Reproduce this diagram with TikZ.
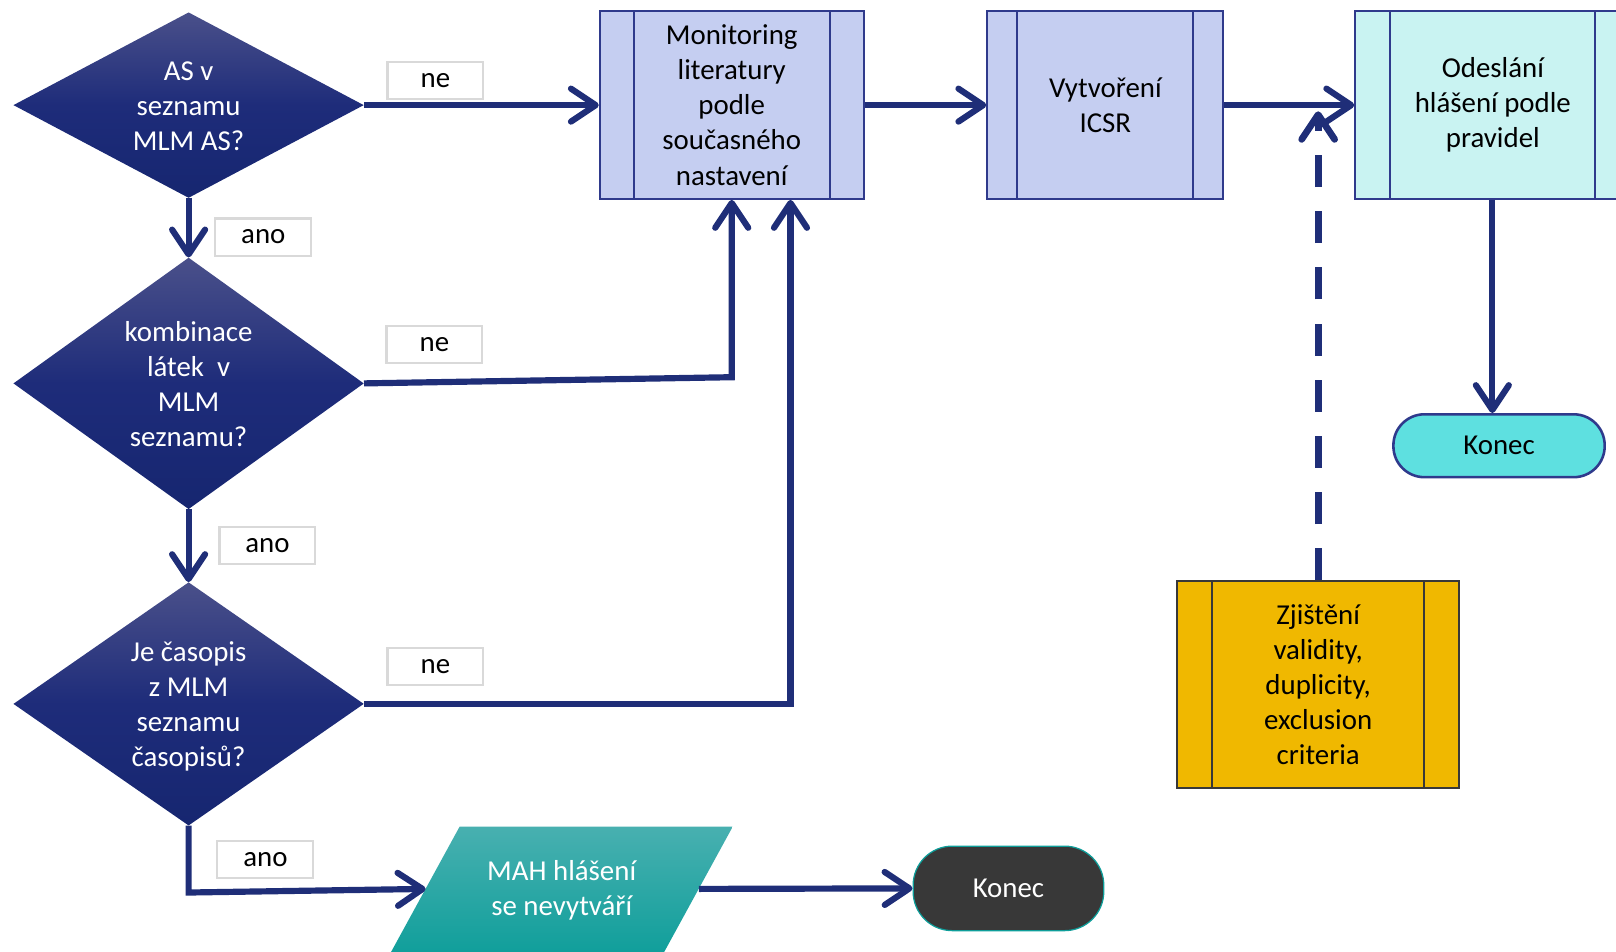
\documentclass[tikz,border=0pt]{standalone}
\usepackage{fontspec}
\setmainfont{Carlito}
\usetikzlibrary{arrows.meta,shapes.geometric}
\definecolor{navy}{RGB}{31,46,120}
\definecolor{bordblue}{RGB}{47,58,140}
\definecolor{lblue}{RGB}{197,206,241}
\definecolor{lcyan}{RGB}{201,243,242}
\definecolor{tealk}{RGB}{94,224,224}
\definecolor{yell}{RGB}{240,184,0}
\definecolor{dtop}{RGB}{74,80,138}
\definecolor{dmid}{RGB}{30,44,122}
\definecolor{dbot}{RGB}{22,38,112}
\definecolor{ptop}{RGB}{72,176,176}
\definecolor{pbot}{RGB}{14,158,154}
\definecolor{darkk}{RGB}{56,56,56}
\definecolor{lblgray}{RGB}{217,217,217}
\begin{document}
\begin{tikzpicture}[x=1pt,y=-1pt,
  every node/.style={font=\fontsize{28}{34}\selectfont, align=center},
  dec/.style={diamond, minimum width=340pt, inner sep=0pt, draw=none,
    top color=dtop, bottom color=dbot, middle color=dmid},
  wtext/.style={text=white},
  procbox/.style 2 args={draw=#2, line width=2pt, rectangle, inner sep=0pt,
    path picture={\draw[line width=2pt, draw=#2]
      ([xshift=#1]path picture bounding box.north west) -- ([xshift=#1]path picture bounding box.south west)
      ([xshift=-#1]path picture bounding box.north east) -- ([xshift=-#1]path picture bounding box.south east);}},
  lbl/.style={draw=lblgray, line width=2pt, fill=white, minimum width=93pt, minimum height=36pt, inner sep=0pt},
  arr/.style={draw=navy, line width=6pt, -{Straight Barb[length=24pt,width=32pt,round]}},
  darr/.style={draw=navy, line width=6.5pt, dash pattern=on 31pt off 23.5pt, -{Straight Barb[length=24pt,width=32pt,round]}}
]
\useasboundingbox (0,0) rectangle (1568,923);

% decisions
\node[dec, minimum height=180pt] (d1) at (183,102) {};
\node[wtext] (d1t) at (183,103) {AS v\\seznamu\\MLM AS?};
\node[dec, minimum height=244pt] (d2) at (183,372) {};
\node[wtext] (d2t) at (183,373) {kombinace\\látek~ v\\MLM\\seznamu?};
\node[dec, minimum height=236pt] (d3) at (183,683) {};
\node[wtext] (d3t) at (183,685) {Je časopis\\z MLM\\seznamu\\časopisů?};

% process boxes
\node[procbox={33pt}{bordblue}, fill=lblue, minimum width=256pt, minimum height=182pt] (mon) at (710,102)
  {Monitoring\\literatury\\podle\\současného\\nastavení};
\node[procbox={29pt}{bordblue}, fill=lblue, minimum width=229pt, minimum height=182pt] (vyt) at (1072.5,102)
  {Vytvoření\\ICSR};
\node[procbox={34pt}{bordblue}, fill=lcyan, minimum width=267pt, minimum height=182pt] (ode) at (1448.5,102)
  {Odeslání\\hlášení podle\\pravidel};
\node[procbox={34pt}{darkk}, fill=yell, minimum width=274pt, minimum height=201pt] (zji) at (1279,664.5)
  {Zjištění\\validity,\\duplicity,\\exclusion\\criteria};

% terminals
\node[draw=bordblue, line width=2.5pt, fill=tealk, rounded corners=30pt, minimum width=205pt, minimum height=61pt, inner sep=0pt] (kon1) at (1454.5,432.5) {Konec};
\node[draw=pbot, line width=1.2pt, fill=darkk, text=white, rounded corners=38pt, minimum width=185pt, minimum height=82pt, inner sep=0pt] (kon2) at (978.5,862) {Konec};

% parallelogram
\shade[top color=ptop, bottom color=pbot] (446,802) -- (711,802) -- (641,930) -- (376,930) -- cycle;
\node[wtext] (mah) at (545,864) {MAH hlášení\\se nevytváří};
\coordinate (mahL) at (413,862.5);
\coordinate (mahR) at (678,862.5);

% labels
\node[lbl] (l1) at (422.5,78) {ne};
\node[lbl] (l2) at (255.5,230) {ano};
\node[lbl] (l3) at (421.5,334) {ne};
\node[lbl] (l4) at (259.5,529.5) {ano};
\node[lbl] (l5) at (422.5,647) {ne};
\node[lbl] (l6) at (257.5,834) {ano};

% connectors
\draw[arr] (d1.east) -- (mon.west);
\draw[arr] (d1.south) -- (d2.north);
\draw[arr] (d2.east) -- (710,366) -- (mon.south);
\draw[arr] (d2.south) -- (d3.north);
\draw[arr] (d3.east) -- (767,683) -- ([xshift=57pt]mon.south);
\draw[arr] (d3.south) -- (183,866) -- (mahL);
\draw[arr] (mahR) -- (kon2.west);
\draw[arr] (mon.east) -- (vyt.west);
\draw[arr] (vyt.east) -- (ode.west);
\draw[arr] ([xshift=-6.5pt]ode.south -| kon1.north) -- ([xshift=-6.5pt]kon1.north);
\coordinate (dtip) at (1279,108);
\draw[darr] (zji.north) -- (dtip);
\end{tikzpicture}
\end{document}
